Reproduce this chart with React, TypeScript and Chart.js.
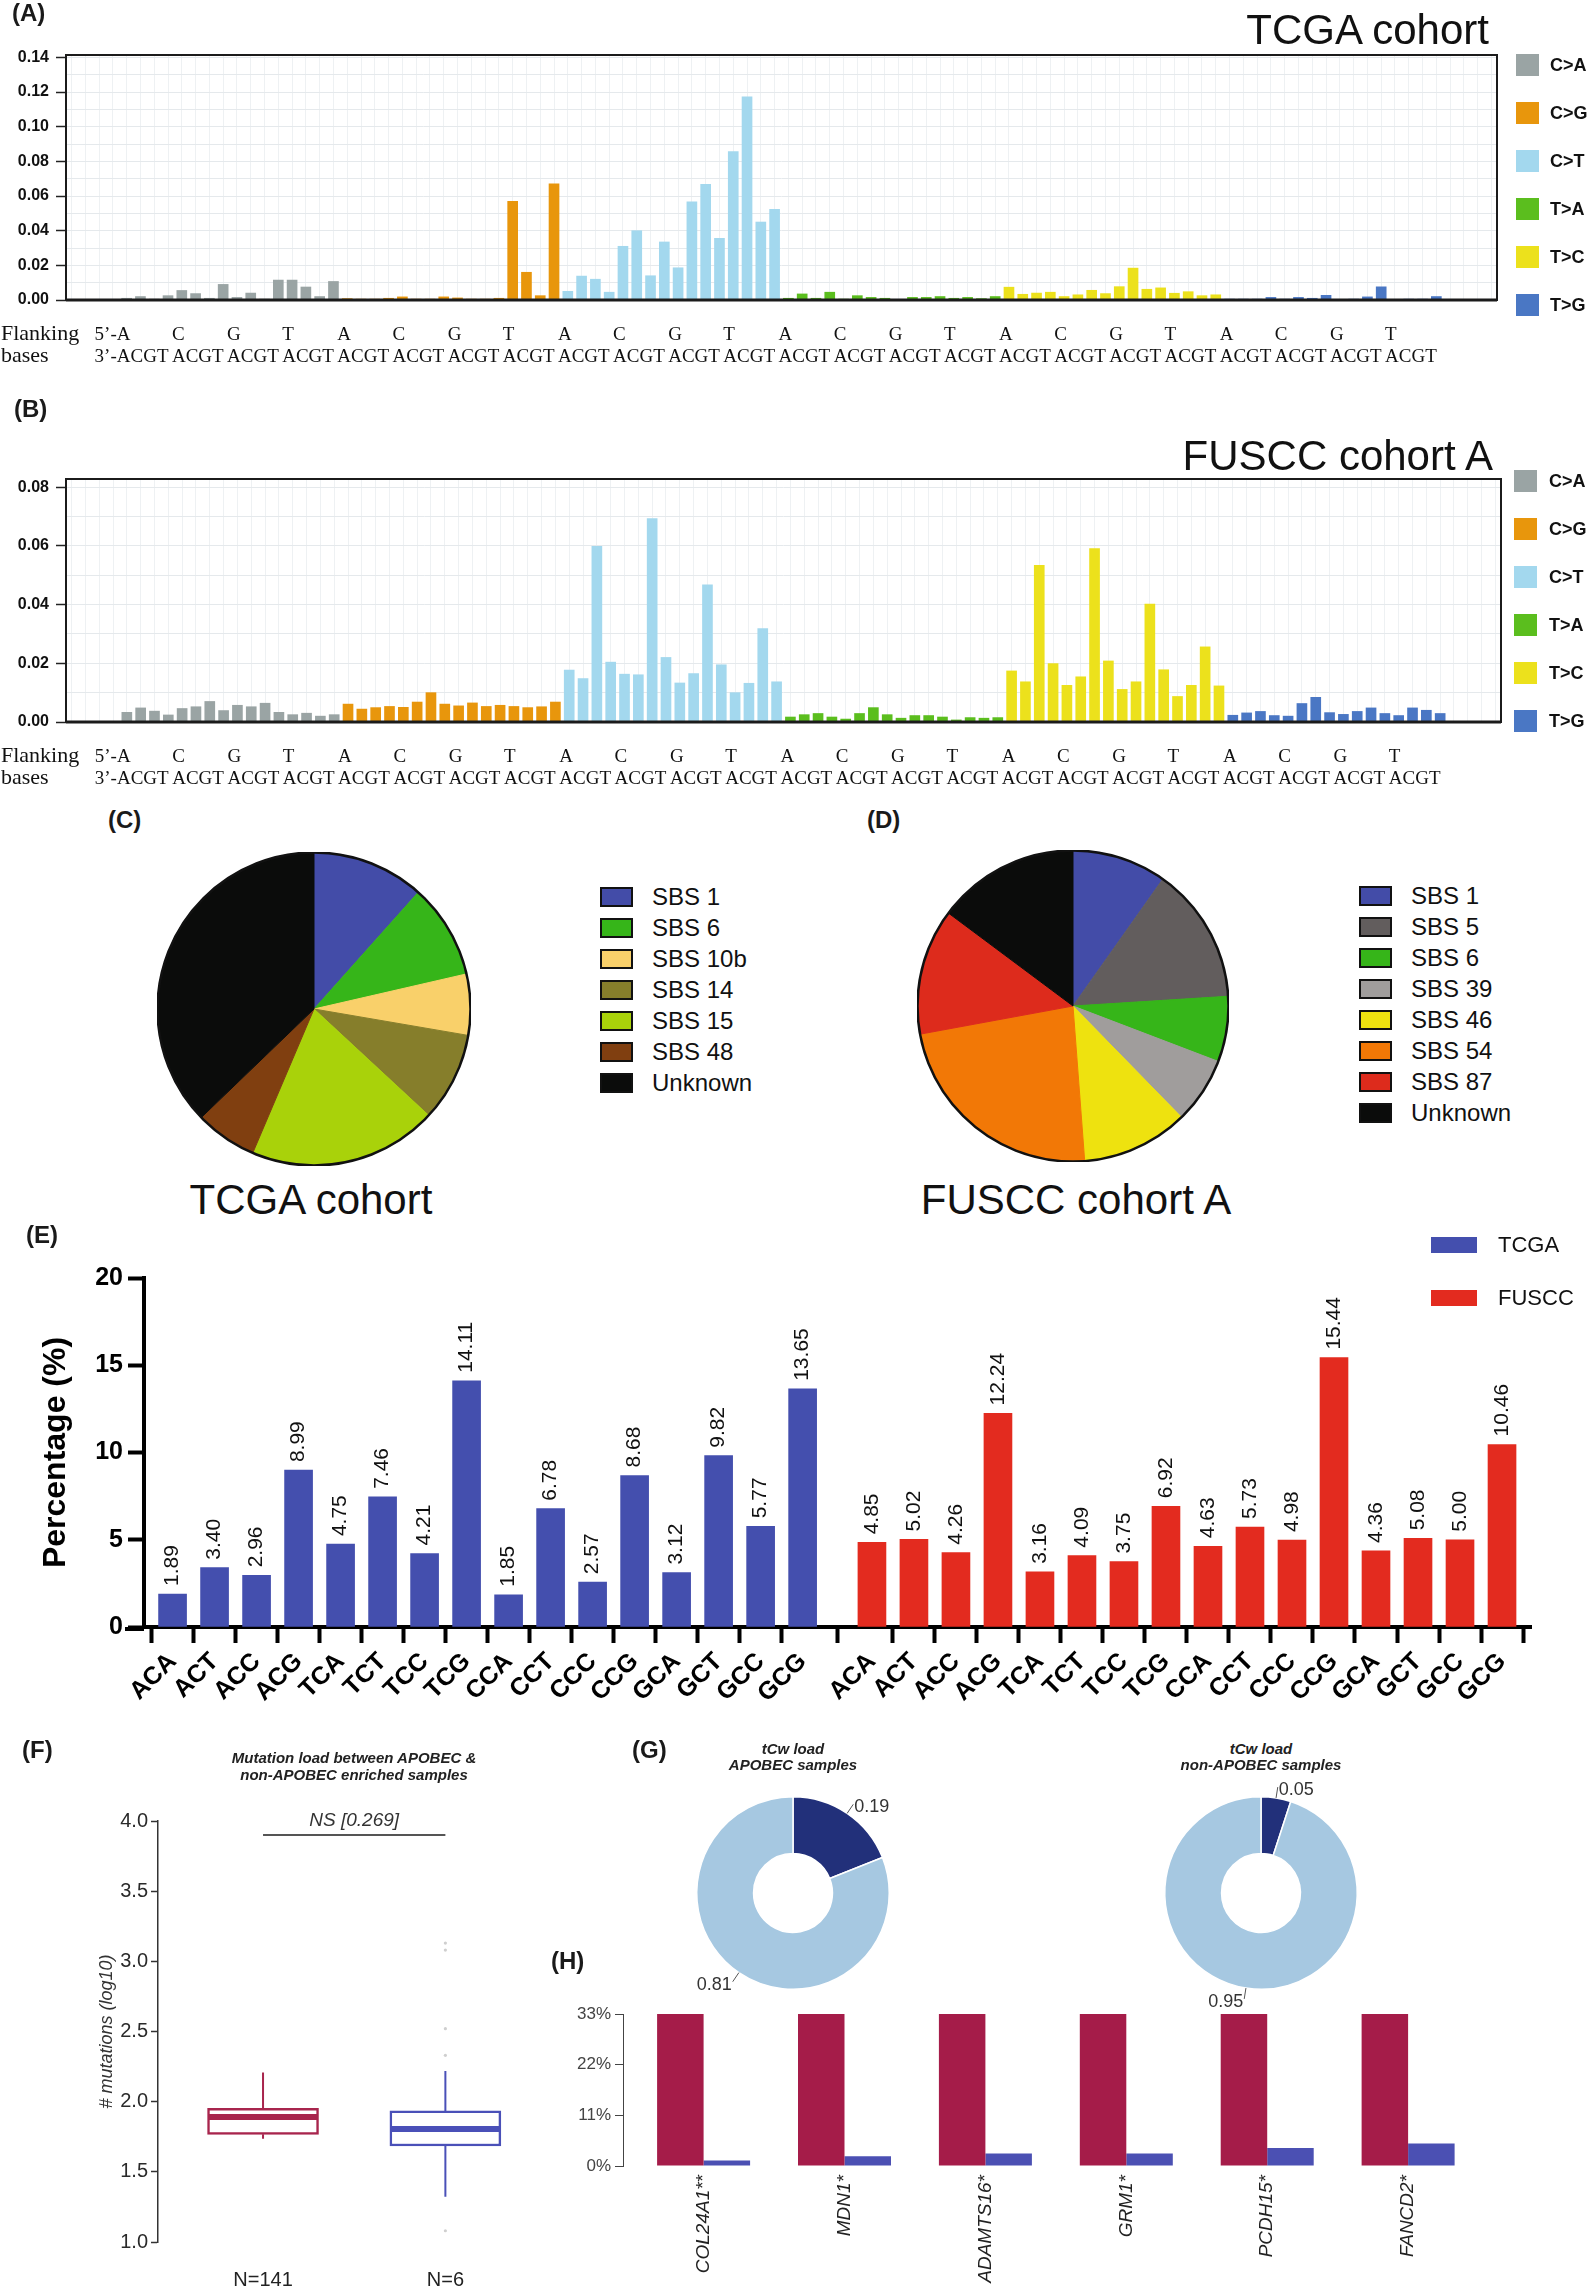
import React, { useEffect, useRef } from 'react';
import { Chart, registerables } from 'chart.js';

Chart.register(...registerables);

const SANS = '"Liberation Sans", Arial, Helvetica, sans-serif';
const SERIF = '"Liberation Serif", "Times New Roman", Times, serif';
Chart.defaults.font.family = SANS;

// ================= Panels A & B: 96-channel SBS spectra =================
const MUT_TYPES = ['C>A', 'C>G', 'C>T', 'T>A', 'T>C', 'T>G'];
const MUT_COLORS = ['#9AA4A4', '#E8960C', '#A3D8EE', '#5BBE1E', '#ECE11C', '#4A77C4'];
const FLANK_BASES = ['A', 'C', 'G', 'T'];

const TCGA_CA = [0.001, 0.002, 0.0005, 0.0025, 0.0055, 0.0037, 0.001, 0.009, 0.0015, 0.004, 0.0005, 0.0115, 0.0115, 0.0075, 0.002, 0.0107];
const TCGA_CG = [0.0008, 0.0005, 0.0005, 0.001, 0.0018, 0.0005, 0.0005, 0.0018, 0.0012, 0.0005, 0.0005, 0.001, 0.057, 0.016, 0.0025, 0.067];
const TCGA_CT = [0.005, 0.0138, 0.012, 0.0045, 0.031, 0.04, 0.014, 0.0335, 0.0186, 0.0567, 0.0668, 0.0356, 0.0856, 0.1173, 0.045, 0.0523];
const TCGA_TA = [0.001, 0.0035, 0.001, 0.0045, 0.0005, 0.0025, 0.0015, 0.001, 0.0003, 0.0015, 0.0015, 0.002, 0.001, 0.0015, 0.0008, 0.002];
const TCGA_TC = [0.0074, 0.0033, 0.004, 0.0045, 0.002, 0.003, 0.0056, 0.0037, 0.0077, 0.0184, 0.0062, 0.007, 0.0039, 0.0048, 0.0025, 0.003];
const TCGA_TG = [0.0005, 0.0005, 0.0005, 0.0015, 0.0005, 0.0015, 0.001, 0.0027, 0.0003, 0.0005, 0.0018, 0.0076, 0.0003, 0.0005, 0.0005, 0.002];

const FUSCC_CA = [0.0033, 0.0048, 0.0037, 0.0024, 0.0046, 0.0052, 0.007, 0.0039, 0.0057, 0.0052, 0.0064, 0.0033, 0.0025, 0.003, 0.002, 0.0025];
const FUSCC_CG = [0.0061, 0.0044, 0.0049, 0.0053, 0.005, 0.0068, 0.01, 0.0061, 0.0055, 0.0065, 0.0053, 0.0057, 0.0053, 0.0049, 0.0052, 0.0068];
const FUSCC_CT = [0.0177, 0.0148, 0.0599, 0.0204, 0.0163, 0.0161, 0.0693, 0.022, 0.0133, 0.0165, 0.0467, 0.0195, 0.01, 0.0132, 0.0318, 0.0137];
const FUSCC_TA = [0.0017, 0.0025, 0.0029, 0.0017, 0.001, 0.0029, 0.0049, 0.0025, 0.0013, 0.0022, 0.0022, 0.0017, 0.0007, 0.0015, 0.0013, 0.0015];
const FUSCC_TC = [0.0174, 0.0137, 0.0534, 0.0199, 0.0125, 0.0154, 0.0591, 0.0208, 0.0111, 0.0137, 0.0402, 0.0178, 0.0087, 0.0125, 0.0256, 0.0123];
const FUSCC_TG = [0.0023, 0.0031, 0.0036, 0.0022, 0.002, 0.0063, 0.0084, 0.0032, 0.0026, 0.0036, 0.0048, 0.0029, 0.0022, 0.0048, 0.004, 0.0029];

const A_Y_MAX = 0.1414;
const B_Y_MAX = 0.0828;
const A_Y_TICKS = [0, 0.01, 0.02, 0.03, 0.04, 0.05, 0.06, 0.07, 0.08, 0.09, 0.1, 0.11, 0.12, 0.13, 0.14];
const B_Y_TICKS = [0, 0.01, 0.02, 0.03, 0.04, 0.05, 0.06, 0.07, 0.08];
const SPEC_X_MIN = -4.4;
const SPEC_X_MAX = 99.4;

// ================= Panels C & D: signature pies =================
const PIE_C_LABELS = ['SBS 1', 'SBS 6', 'SBS 10b', 'SBS 14', 'SBS 15', 'SBS 48', 'Unknown'];
const PIE_C_VALUES = [11.6, 9.8, 6.3, 9.2, 19.5, 6.4, 37.2];
const PIE_C_COLORS = ['#434CA8', '#36B519', '#F9D06A', '#867E2B', '#A9D20A', '#803F10', '#0B0C0B'];
const PIE_D_LABELS = ['SBS 1', 'SBS 5', 'SBS 6', 'SBS 39', 'SBS 46', 'SBS 54', 'SBS 87', 'Unknown'];
const PIE_D_VALUES = [9.8, 14.2, 6.8, 6.9, 11.1, 23.3, 13.1, 14.8];
const PIE_D_COLORS = ['#434CA8', '#625D5D', '#36B519', '#A09D9C', '#EEE20F', '#F27806', '#DD2B1C', '#0B0C0B'];

// ================= Panel E: trinucleotide contexts =================
const CONTEXTS = ['ACA', 'ACT', 'ACC', 'ACG', 'TCA', 'TCT', 'TCC', 'TCG', 'CCA', 'CCT', 'CCC', 'CCG', 'GCA', 'GCT', 'GCC', 'GCG'];
const E_SERIES = ['TCGA', 'FUSCC'];
const E_COLORS = ['#444FAE', '#E32B1F'];
const E_TCGA = [1.89, 3.4, 2.96, 8.99, 4.75, 7.46, 4.21, 14.11, 1.85, 6.78, 2.57, 8.68, 3.12, 9.82, 5.77, 13.65];
const E_FUSCC = [4.85, 5.02, 4.26, 12.24, 3.16, 4.09, 3.75, 6.92, 4.63, 5.73, 4.98, 15.44, 4.36, 5.08, 5.0, 10.46];
const E_Y_TICKS = [0, 5, 10, 15, 20];
const E_GAP = 0.65;

// ================= Panel F: mutation load box plot =================
const F_GROUPS = ['N=141', 'N=6'];
const F_COLORS = ['#A8254D', '#4A50B8'];
const F_MIN = [1.735, 1.322];
const F_Q1 = [1.767, 1.684];
const F_MED = [1.89, 1.805];
const F_Q3 = [1.953, 1.934];
const F_MAX = [2.208, 2.218];
const F_OUTLIERS = [3.13, 3.08, 2.52, 2.33, 1.08];
const F_Y_TICKS = [1, 1.5, 2, 2.5, 3, 3.5, 4];
const F_BRACKET_Y = 3.9;
const F_PVALUE = 'NS [0.269]';

// ================= Panel G: tCw load donuts =================
const G_LABELS = ['tCw', 'other'];
const G_COLORS = ['#22307A', '#A6C8E1'];
const G_APOBEC = [0.19, 0.81];
const G_NON_APOBEC = [0.05, 0.95];

// ================= Panel H: gene mutation frequency =================
const H_GENES = ['COL24A1**', 'MDN1*', 'ADAMTS16*', 'GRM1*', 'PCDH15*', 'FANCD2*'];
const H_APOBEC = [33, 33, 33, 33, 33, 33];
const H_NON_APOBEC = [1.2, 2.1, 2.7, 2.7, 3.9, 4.9];
const H_COLORS = ['#A51C49', '#4B50B3'];
const H_Y_TICKS = [0, 11, 22, 33];

// ================= helpers =================
const W = 1591;
const H = 2293;

const baseOptions = {
  animation: false,
  responsive: false,
  maintainAspectRatio: false,
  devicePixelRatio: 1,
};
const noLegend = { legend: { display: false }, tooltip: { enabled: false } };

function ChartBox({ left, top, width, height, make }: any) {
  const ref = useRef<HTMLCanvasElement>(null);
  useEffect(() => {
    const chart = new Chart(ref.current as HTMLCanvasElement, make());
    return () => chart.destroy();
  }, []);
  return (
    <div style={{ position: 'absolute', left, top, width, height }}>
      <canvas ref={ref} width={width} height={height} style={{ display: 'block', width, height }} />
    </div>
  );
}

function Txt({ x, y, size, children, align = 'left', weight = 'normal', italic = false, family = SANS, color = '#111' }: any) {
  const tx = align === 'center' ? 'translateX(-50%)' : align === 'right' ? 'translateX(-100%)' : 'none';
  return (
    <div
      style={{
        position: 'absolute',
        left: x,
        top: y - 0.8465 * size,
        fontSize: size,
        lineHeight: `${size}px`,
        fontFamily: family,
        fontWeight: weight,
        fontStyle: italic ? 'italic' : 'normal',
        color,
        whiteSpace: 'nowrap',
        transform: tx,
      }}
    >
      {children}
    </div>
  );
}

function Sq({ x, y, w, h, color, border }: any) {
  return (
    <div
      style={{
        position: 'absolute',
        left: x,
        top: y,
        width: w,
        height: h,
        background: color,
        boxSizing: 'border-box',
        border: border || 'none',
      }}
    />
  );
}

// ---------- plugins ----------
const framePlugin = {
  id: 'frame',
  afterDraw(chart: any) {
    const { ctx, chartArea: a } = chart;
    ctx.save();
    ctx.strokeStyle = '#1b1b1b';
    ctx.lineWidth = 2;
    ctx.strokeRect(a.left, a.top, a.right - a.left, a.bottom - a.top);
    ctx.lineWidth = 3;
    ctx.beginPath();
    ctx.moveTo(a.left, a.bottom);
    ctx.lineTo(a.right, a.bottom);
    ctx.stroke();
    ctx.restore();
  },
};

const flankPlugin = {
  id: 'flank',
  afterDraw(chart: any) {
    const { ctx, chartArea } = chart;
    const xs = chart.scales.x;
    const r1 = chartArea.bottom + 40;
    const r2 = chartArea.bottom + 62;
    ctx.save();
    ctx.fillStyle = '#111';
    ctx.textBaseline = 'alphabetic';
    ctx.textAlign = 'left';
    ctx.font = `22px ${SERIF}`;
    ctx.fillText('Flanking', 1, r1);
    ctx.fillText('bases', 1, r2);
    ctx.font = `19px ${SERIF}`;
    const n = FLANK_BASES.length;
    const groups = MUT_TYPES.length * n;
    for (let g = 0; g < groups; g++) {
      const left = xs.getPixelForValue(g * n - 0.5) - 3;
      ctx.textAlign = 'left';
      ctx.fillText(FLANK_BASES[g % n], left, r1);
      ctx.fillText(FLANK_BASES.join(''), left, r2);
      if (g === 0) {
        ctx.textAlign = 'right';
        ctx.fillText('5\u2019-', left, r1);
        ctx.fillText('3\u2019-', left, r2);
      }
    }
    ctx.restore();
  },
};

function spectrumConfig(groups: number[][], yMax: number, yTicks: number[], pad: any) {
  const data: any[] = [];
  const colors: string[] = [];
  groups.forEach((g, t) =>
    g.forEach((v, j) => {
      data.push({ x: t * g.length + j, y: v });
      colors.push(MUT_COLORS[t]);
    })
  );
  const major = (v: number) => Math.round(v * 100) % 2 === 0;
  const gridX: number[] = [];
  for (let v = Math.ceil(SPEC_X_MIN); v <= Math.floor(SPEC_X_MAX); v++) gridX.push(v);
  return {
    type: 'bar',
    data: { datasets: [{ data, backgroundColor: colors, borderWidth: 0, barThickness: 10, grouped: false }] },
    options: {
      ...baseOptions,
      layout: { padding: pad },
      plugins: noLegend,
      scales: {
        x: {
          type: 'linear',
          bounds: 'data',
          min: SPEC_X_MIN,
          max: SPEC_X_MAX,
          offset: false,
          afterBuildTicks: (s: any) => {
            s.ticks = gridX.map((value) => ({ value }));
          },
          ticks: { display: false, autoSkip: false },
          grid: { color: '#eef1f3', lineWidth: 1, drawTicks: false, offset: false },
          border: { display: false },
          afterFit: (s: any) => {
            s.height = 0;
          },
        },
        y: {
          type: 'linear',
          bounds: 'data',
          min: 0,
          max: yMax,
          afterBuildTicks: (s: any) => {
            s.ticks = yTicks.map((value) => ({ value }));
          },
          ticks: {
            autoSkip: false,
            padding: 7,
            color: '#111',
            font: { size: 16, weight: 'bold' },
            callback: (v: number) => (major(v) ? v.toFixed(2) : ''),
          },
          grid: {
            color: '#e5e9ec',
            lineWidth: 1,
            tickLength: 10,
            tickWidth: 1.5,
            tickColor: (c: any) => (c.tick && major(c.tick.value) ? '#222' : 'rgba(0,0,0,0)'),
          },
          border: { display: false },
          afterFit: (s: any) => {
            s.width = 66;
          },
        },
      },
    },
    plugins: [framePlugin, flankPlugin],
  };
}

const outlinePlugin = {
  id: 'outline',
  afterDatasetsDraw(chart: any) {
    const arc = chart.getDatasetMeta(0).data[0];
    if (!arc) return;
    const { ctx } = chart;
    ctx.save();
    ctx.beginPath();
    ctx.arc(arc.x, arc.y, arc.outerRadius, 0, Math.PI * 2);
    ctx.lineWidth = 2.5;
    ctx.strokeStyle = '#111';
    ctx.stroke();
    ctx.restore();
  },
};

function pieConfig(labels: string[], values: number[], colors: string[]) {
  return {
    type: 'pie',
    data: { labels, datasets: [{ data: values, backgroundColor: colors, borderColor: colors, borderWidth: 1 }] },
    options: { ...baseOptions, layout: { padding: 0 }, plugins: noLegend },
    plugins: [outlinePlugin],
  };
}

const eLabelPlugin = {
  id: 'eLabels',
  afterDatasetsDraw(chart: any) {
    const { ctx, chartArea } = chart;
    ctx.save();
    ctx.font = `21px ${SANS}`;
    ctx.fillStyle = '#111';
    ctx.textAlign = 'left';
    ctx.textBaseline = 'middle';
    chart.data.datasets.forEach((ds: any, di: number) => {
      const meta = chart.getDatasetMeta(di);
      meta.data.forEach((bar: any, i: number) => {
        ctx.save();
        ctx.translate(bar.x, bar.y - 8);
        ctx.rotate(-Math.PI / 2);
        ctx.fillText(ds.data[i].y.toFixed(2), 0, 0);
        ctx.restore();
      });
    });
    // x-axis line continues a little to the left of the y axis
    ctx.strokeStyle = '#000';
    ctx.lineWidth = 4;
    ctx.beginPath();
    ctx.moveTo(chartArea.left - 19, chartArea.bottom + 2);
    ctx.lineTo(chartArea.left, chartArea.bottom + 2);
    ctx.stroke();
    ctx.restore();
  },
};

function eConfig() {
  const posT = CONTEXTS.map((_, i) => i);
  const posF = CONTEXTS.map((_, i) => CONTEXTS.length + E_GAP + i);
  const tickPos = [...posT, ...posF];
  const tickLabels = [...CONTEXTS, ...CONTEXTS];
  return {
    type: 'bar',
    data: {
      datasets: [
        { label: E_SERIES[0], data: E_TCGA.map((v, i) => ({ x: posT[i], y: v })), backgroundColor: E_COLORS[0], borderWidth: 0, barThickness: 28, grouped: false },
        { label: E_SERIES[1], data: E_FUSCC.map((v, i) => ({ x: posF[i], y: v })), backgroundColor: E_COLORS[1], borderWidth: 0, barThickness: 28, grouped: false },
      ],
    },
    options: {
      ...baseOptions,
      layout: { padding: { left: 0, top: 78, right: 60, bottom: 0 } },
      plugins: noLegend,
      scales: {
        x: {
          type: 'linear',
          bounds: 'data',
          min: -0.68,
          max: 32.34,
          offset: false,
          afterBuildTicks: (s: any) => {
            s.ticks = tickPos.map((value) => ({ value }));
          },
          ticks: {
            autoSkip: false,
            minRotation: 45,
            maxRotation: 45,
            padding: 4,
            color: '#000',
            font: { size: 25, weight: 'bold' },
            callback: (_v: any, i: number) => tickLabels[i],
          },
          grid: { drawOnChartArea: false, drawTicks: true, tickLength: 16, tickWidth: 4, tickColor: '#000' },
          border: { display: true, color: '#000', width: 4 },
          afterFit: (s: any) => {
            s.height = 103;
          },
        },
        y: {
          type: 'linear',
          bounds: 'data',
          min: 0,
          max: 20,
          afterBuildTicks: (s: any) => {
            s.ticks = E_Y_TICKS.map((value) => ({ value }));
          },
          ticks: { padding: 5, color: '#000', font: { size: 25, weight: 'bold' } },
          grid: { drawOnChartArea: false, tickLength: 16, tickWidth: 4, tickColor: '#000' },
          border: { display: true, color: '#000', width: 4 },
          title: { display: true, text: 'Percentage (%)', color: '#000', font: { size: 32, weight: 'bold' }, padding: { top: 37, bottom: 0 } },
          afterFit: (s: any) => {
            s.width = 144;
          },
        },
      },
    },
    plugins: [eLabelPlugin],
  };
}

const boxPlugin = {
  id: 'boxWhisker',
  afterDatasetsDraw(chart: any) {
    const { ctx } = chart;
    const xs = chart.scales.x;
    const ys = chart.scales.y;
    const meta = chart.getDatasetMeta(0);
    ctx.save();
    F_GROUPS.forEach((_, i) => {
      const bar = meta.data[i];
      const cx = bar.x;
      const half = bar.width / 2;
      ctx.strokeStyle = F_COLORS[i];
      ctx.lineWidth = 2;
      ctx.beginPath();
      ctx.moveTo(cx, ys.getPixelForValue(F_Q3[i]));
      ctx.lineTo(cx, ys.getPixelForValue(F_MAX[i]));
      ctx.moveTo(cx, ys.getPixelForValue(F_Q1[i]));
      ctx.lineTo(cx, ys.getPixelForValue(F_MIN[i]));
      ctx.stroke();
      ctx.lineWidth = 6;
      ctx.beginPath();
      ctx.moveTo(cx - half + 1.5, ys.getPixelForValue(F_MED[i]));
      ctx.lineTo(cx + half - 1.5, ys.getPixelForValue(F_MED[i]));
      ctx.stroke();
    });
    const y0 = ys.getPixelForValue(F_BRACKET_Y);
    const x1 = xs.getPixelForValue(1);
    const x2 = xs.getPixelForValue(F_GROUPS.length);
    ctx.strokeStyle = '#555';
    ctx.lineWidth = 2;
    ctx.beginPath();
    ctx.moveTo(x1, y0);
    ctx.lineTo(x2, y0);
    ctx.stroke();
    ctx.font = `italic 19px ${SANS}`;
    ctx.fillStyle = '#333';
    ctx.textAlign = 'center';
    ctx.textBaseline = 'alphabetic';
    ctx.fillText(F_PVALUE, (x1 + x2) / 2, y0 - 9);
    ctx.restore();
  },
};

function fConfig() {
  return {
    type: 'bar',
    data: {
      datasets: [
        {
          type: 'bar',
          data: F_GROUPS.map((_, i) => ({ x: i + 1, y: [F_Q1[i], F_Q3[i]] })),
          backgroundColor: '#ffffff',
          borderColor: F_COLORS,
          borderWidth: 2.5,
          borderSkipped: false,
          barThickness: 111,
          grouped: false,
        },
        {
          type: 'scatter',
          data: F_OUTLIERS.map((v) => ({ x: F_GROUPS.length, y: v })),
          pointRadius: 1.6,
          pointBackgroundColor: '#cfcfcf',
          pointBorderWidth: 0,
        },
      ],
    },
    options: {
      ...baseOptions,
      layout: { padding: { left: 0, top: 121, right: 0, bottom: 0 } },
      plugins: noLegend,
      scales: {
        x: {
          type: 'linear',
          bounds: 'data',
          min: 0.424,
          max: 2.826,
          offset: false,
          afterBuildTicks: (s: any) => {
            s.ticks = F_GROUPS.map((_, i) => ({ value: i + 1 }));
          },
          ticks: { autoSkip: false, maxRotation: 0, padding: 26, color: '#222', font: { size: 20 }, callback: (_v: any, i: number) => F_GROUPS[i] },
          grid: { display: false, drawTicks: false },
          border: { display: false },
          afterFit: (s: any) => {
            s.height = 51;
          },
        },
        y: {
          type: 'linear',
          bounds: 'data',
          min: 1,
          max: 4,
          afterBuildTicks: (s: any) => {
            s.ticks = F_Y_TICKS.map((value) => ({ value }));
          },
          ticks: { padding: 3, color: '#2a2a2a', font: { size: 20 }, callback: (v: number) => v.toFixed(1) },
          grid: { drawOnChartArea: false, tickLength: 7, tickWidth: 1.5, tickColor: '#333' },
          border: { display: true, color: '#333', width: 1.5 },
          title: { display: true, text: '# mutations (log10)', color: '#333', font: { size: 18, style: 'italic' }, padding: { top: 96, bottom: 0 } },
          afterFit: (s: any) => {
            s.width = 158;
          },
        },
      },
    },
    plugins: [boxPlugin],
  };
}

const donutLabelPlugin = {
  id: 'donutLabels',
  afterDatasetsDraw(chart: any) {
    const { ctx } = chart;
    const vals = chart.data.datasets[0].data;
    const meta = chart.getDatasetMeta(0);
    ctx.save();
    ctx.font = `18px ${SANS}`;
    ctx.fillStyle = '#333';
    ctx.strokeStyle = '#555';
    ctx.lineWidth = 1;
    ctx.textBaseline = 'alphabetic';
    meta.data.forEach((arc: any, i: number) => {
      const mid = (arc.startAngle + arc.endAngle) / 2;
      const r = arc.outerRadius;
      const sx = arc.x + Math.cos(mid) * r;
      const sy = arc.y + Math.sin(mid) * r;
      const ex = arc.x + Math.cos(mid) * (r + 11);
      const ey = arc.y + Math.sin(mid) * (r + 11);
      ctx.beginPath();
      ctx.moveTo(sx, sy);
      ctx.lineTo(ex, ey);
      ctx.stroke();
      const right = Math.cos(mid) >= 0;
      ctx.textAlign = right ? 'left' : 'right';
      ctx.fillText(vals[i].toFixed(2), ex + (right ? 1 : -1), ey + 8);
    });
    ctx.restore();
  },
};

function donutConfig(values: number[]) {
  return {
    type: 'doughnut',
    data: { labels: G_LABELS, datasets: [{ data: values, backgroundColor: G_COLORS, borderColor: '#ffffff', borderWidth: 1.5 }] },
    options: { ...baseOptions, cutout: '41%', layout: { padding: { left: 63, right: 63, top: 28, bottom: 28 } }, plugins: noLegend },
    plugins: [donutLabelPlugin],
  };
}

function hConfig() {
  return {
    type: 'bar',
    data: {
      datasets: [
        { label: 'APOBEC', data: H_APOBEC.map((v, i) => ({ x: i, y: v })), backgroundColor: H_COLORS[0], borderWidth: 0, categoryPercentage: 0.66, barPercentage: 1 },
        { label: 'non-APOBEC', data: H_NON_APOBEC.map((v, i) => ({ x: i, y: v })), backgroundColor: H_COLORS[1], borderWidth: 0, categoryPercentage: 0.66, barPercentage: 1 },
      ],
    },
    options: {
      ...baseOptions,
      layout: { padding: { left: 0, top: 24, right: 0, bottom: 0 } },
      plugins: noLegend,
      scales: {
        x: {
          type: 'linear',
          bounds: 'data',
          min: -0.572,
          max: 6.298,
          offset: false,
          afterBuildTicks: (s: any) => {
            s.ticks = H_GENES.map((_, i) => ({ value: i }));
          },
          ticks: { autoSkip: false, minRotation: 90, maxRotation: 90, padding: 9, color: '#222', font: { size: 19, style: 'italic' }, callback: (_v: any, i: number) => H_GENES[i] },
          grid: { display: false, drawTicks: false },
          border: { display: false },
          afterFit: (s: any) => {
            s.height = 127;
          },
        },
        y: {
          type: 'linear',
          bounds: 'data',
          min: 0,
          max: H_Y_TICKS[H_Y_TICKS.length - 1],
          afterBuildTicks: (s: any) => {
            s.ticks = H_Y_TICKS.map((value) => ({ value }));
          },
          ticks: { padding: 4, color: '#444', font: { size: 17 }, callback: (v: number) => `${v}%` },
          grid: { drawOnChartArea: false, tickLength: 8, tickWidth: 1, tickColor: '#444' },
          border: { display: true, color: '#444', width: 1 },
          afterFit: (s: any) => {
            s.width = 83;
          },
        },
      },
    },
  };
}

export default function App() {
  useEffect(() => {
    document.body.style.margin = '0';
  }, []);

  const panelLabel = (t: string, x: number, y: number) => (
    <Txt x={x} y={y} size={24} weight="bold" color="#1a1a1a">
      {t}
    </Txt>
  );

  return (
    <div style={{ position: 'absolute', left: 0, top: 0, width: W, height: H, background: '#fff', overflow: 'hidden', fontFamily: SANS }}>
      {/* Panel A */}
      <ChartBox left={0} top={0} width={1591} height={375} make={() => spectrumConfig([TCGA_CA, TCGA_CG, TCGA_CT, TCGA_TA, TCGA_TC, TCGA_TG], A_Y_MAX, A_Y_TICKS, { left: 0, top: 55, right: 94, bottom: 75 })} />
      {panelLabel('(A)', 12, 21)}
      <Txt x={1489} y={45} size={42} align="right" color="#111">TCGA cohort</Txt>
      {MUT_TYPES.map((t, i) => (
        <React.Fragment key={'la' + t}>
          <Sq x={1516} y={54 + 48 * i} w={23} h={22} color={MUT_COLORS[i]} />
          <Txt x={1550} y={54 + 48 * i + 17.5} size={18} weight="bold">{t}</Txt>
        </React.Fragment>
      ))}

      {/* Panel B */}
      <ChartBox left={0} top={390} width={1591} height={400} make={() => spectrumConfig([FUSCC_CA, FUSCC_CG, FUSCC_CT, FUSCC_TA, FUSCC_TC, FUSCC_TG], B_Y_MAX, B_Y_TICKS, { left: 0, top: 89, right: 90, bottom: 68 })} />
      {panelLabel('(B)', 14, 417)}
      <Txt x={1493} y={471} size={42} align="right" color="#111">FUSCC cohort A</Txt>
      {MUT_TYPES.map((t, i) => (
        <React.Fragment key={'lb' + t}>
          <Sq x={1514} y={470 + 48 * i} w={23} h={22} color={MUT_COLORS[i]} />
          <Txt x={1549} y={470 + 48 * i + 17.5} size={18} weight="bold">{t}</Txt>
        </React.Fragment>
      ))}

      {/* Panel C */}
      {panelLabel('(C)', 108, 828)}
      <ChartBox left={157} top={852} width={314} height={314} make={() => pieConfig(PIE_C_LABELS, PIE_C_VALUES, PIE_C_COLORS)} />
      {PIE_C_LABELS.map((l, i) => (
        <React.Fragment key={'lc' + l}>
          <Sq x={600} y={887 + 31 * i} w={33} h={20} color={PIE_C_COLORS[i]} border="2px solid #111" />
          <Txt x={652} y={897 + 31 * i + 8.6} size={24}>{l}</Txt>
        </React.Fragment>
      ))}
      <Txt x={311} y={1215} size={42} align="center">TCGA cohort</Txt>

      {/* Panel D */}
      {panelLabel('(D)', 867, 828)}
      <ChartBox left={917} top={850} width={312} height={312} make={() => pieConfig(PIE_D_LABELS, PIE_D_VALUES, PIE_D_COLORS)} />
      {PIE_D_LABELS.map((l, i) => (
        <React.Fragment key={'ld' + l}>
          <Sq x={1359} y={886 + 31 * i} w={33} h={20} color={PIE_D_COLORS[i]} border="2px solid #111" />
          <Txt x={1411} y={896 + 31 * i + 8.6} size={24}>{l}</Txt>
        </React.Fragment>
      ))}
      <Txt x={1076} y={1215} size={42} align="center">FUSCC cohort A</Txt>

      {/* Panel E */}
      <ChartBox left={0} top={1200} width={1591} height={530} make={eConfig} />
      {panelLabel('(E)', 26, 1243)}
      {E_SERIES.map((s, i) => (
        <React.Fragment key={'le' + s}>
          <Sq x={1431} y={1237 + 53 * i} w={46} h={16} color={E_COLORS[i]} />
          <Txt x={1498} y={1245 + 53 * i + 8} size={22}>{s}</Txt>
        </React.Fragment>
      ))}

      {/* Panel F */}
      <ChartBox left={0} top={1700} width={600} height={593} make={fConfig} />
      {panelLabel('(F)', 22, 1758)}
      <Txt x={354} y={1763} size={15} weight="bold" italic align="center" color="#222">Mutation load between APOBEC &amp;</Txt>
      <Txt x={354} y={1780} size={15} weight="bold" italic align="center" color="#222">non-APOBEC enriched samples</Txt>

      {/* Panel G */}
      {panelLabel('(G)', 632, 1758)}
      <ChartBox left={633} top={1768} width={320} height={250} make={() => donutConfig(G_APOBEC)} />
      <ChartBox left={1101} top={1768} width={320} height={250} make={() => donutConfig(G_NON_APOBEC)} />
      <Txt x={793} y={1754} size={15} weight="bold" italic align="center" color="#222">tCw load</Txt>
      <Txt x={793} y={1770} size={15} weight="bold" italic align="center" color="#222">APOBEC samples</Txt>
      <Txt x={1261} y={1754} size={15} weight="bold" italic align="center" color="#222">tCw load</Txt>
      <Txt x={1261} y={1770} size={15} weight="bold" italic align="center" color="#222">non-APOBEC samples</Txt>

      {/* Panel H */}
      <ChartBox left={540} top={1990} width={1051} height={303} make={hConfig} />
      {panelLabel('(H)', 551, 1969)}
    </div>
  );
}
